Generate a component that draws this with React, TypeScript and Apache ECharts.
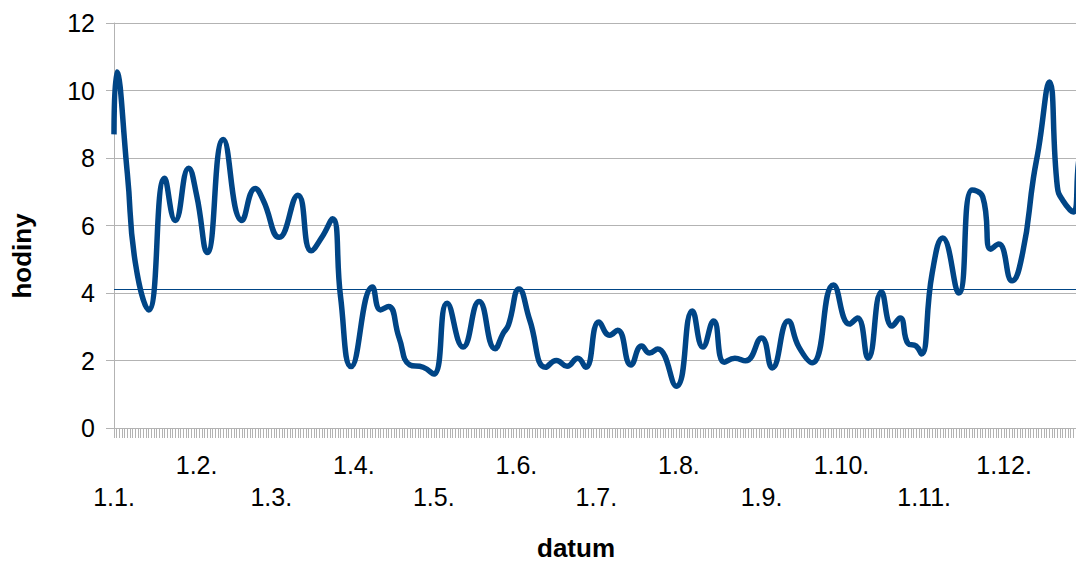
import React, { useEffect, useRef } from "react";
import * as echarts from "echarts";

// Month starts (day index within the year) and their labels
const monthStarts = [0, 31, 59, 90, 120, 151, 181, 212, 243, 273, 304, 334];
const monthLabels = ["1.1.", "1.2.", "1.3.", "1.4.", "1.5.", "1.6.", "1.7.", "1.8.", "1.9.", "1.10.", "1.11.", "1.12."];
const dayCount = 365;

// Read-off points of the curve: day of year and hours
const pointDays = [
  0, 1, 5, 8, 13, 19, 23, 28, 31, 35, 41, 48, 53, 56, 62, 69, 74, 78, 82, 85,
  89, 97, 100, 103, 107, 111, 116, 120, 125, 131, 137, 143, 146, 148, 152, 156, 162, 166, 170, 174,
  177, 182, 186, 189, 194, 198, 201, 204, 211, 217, 221, 225, 229, 233, 237, 243, 247, 253, 257, 262,
  270, 276, 279, 283, 288, 292, 295, 298, 301, 303, 307, 311, 317, 322, 326, 329, 332, 337, 341, 345,
  347, 351, 354, 356, 360, 362, 364,
];
const pointHours = [
  8.7, 10.55, 7.55, 4.9, 3.5, 7.4, 6.15, 7.7, 6.9, 5.2, 8.55, 6.15, 7.1, 6.75, 5.65, 6.9, 5.25, 5.65, 6.2, 3.9,
  1.82, 4.18, 3.5, 3.6, 2.67, 1.87, 1.8, 1.6, 3.7, 2.4, 3.75, 2.35, 2.8, 3.05, 4.12, 3.2, 1.8, 2.0, 1.83, 2.07,
  1.8, 3.14, 2.75, 2.9, 1.87, 2.43, 2.22, 2.34, 1.24, 3.47, 2.4, 3.17, 1.95, 2.07, 1.99, 2.67, 1.78, 3.17, 2.4, 1.93,
  4.24, 3.08, 3.26, 2.07, 4.03, 3.02, 3.26, 2.5, 2.43, 2.19, 4.58, 5.63, 4.0, 7.05, 6.85, 5.3, 5.45, 4.36, 5.2, 7.4,
  8.3, 10.25, 7.15, 6.75, 6.4, 7.9, 8.8,
];
const meanHours = 4.1;

const yTicks = { min: 0, max: 12, interval: 2 };

function buildCategories(): string[] {
  const cats: string[] = [];
  for (let i = 0; i < dayCount; i++) {
    let m = 0;
    for (let k = 0; k < monthStarts.length; k++) if (i >= monthStarts[k]) m = k;
    cats.push(`${i - monthStarts[m] + 1}.${m + 1}.`);
  }
  return cats;
}

function buildSeries(): (number | null)[] {
  const arr: (number | null)[] = new Array(dayCount).fill(null);
  pointDays.forEach((d, i) => {
    arr[d] = pointHours[i];
  });
  return arr;
}

export default function App() {
  const ref = useRef<HTMLDivElement>(null);
  useEffect(() => {
    if (!ref.current) return;
    const chart = echarts.init(ref.current, undefined, { renderer: "svg" });
    const font = "Liberation Sans";
    const grey = "#b3b3b3";
    chart.setOption({
      animation: false,
      grid: { left: 114, right: 2, top: 23, bottom: 134 },
      xAxis: {
        type: "category",
        data: buildCategories(),
        boundaryGap: false,
        axisLine: { lineStyle: { color: grey, width: 1 } },
        axisTick: { show: true, interval: 0, length: 10, lineStyle: { color: grey } },
        axisLabel: {
          interval: (i: number) => monthStarts.includes(i),
          formatter: (_v: string, i: number) => {
            const m = monthStarts.indexOf(i);
            if (m < 0) return "";
            return m % 2 === 0 ? "\n" + monthLabels[m] : monthLabels[m];
          },
          fontFamily: font,
          fontSize: 25,
          color: "#000",
          lineHeight: 32,
          margin: 21,
        },
        splitLine: { show: false },
      },
      yAxis: {
        type: "value",
        min: yTicks.min,
        max: yTicks.max,
        interval: yTicks.interval,
        axisLine: { show: true, lineStyle: { color: grey } },
        axisTick: { show: true, length: 8, lineStyle: { color: grey } },
        splitLine: { lineStyle: { color: grey, width: 1 } },
        axisLabel: { fontFamily: font, fontSize: 25, color: "#000", margin: 19 },
      },
      series: [
        {
          type: "line",
          data: buildSeries(),
          smooth: true,
          connectNulls: true,
          showSymbol: false,
          lineStyle: { color: "#004586", width: 5.5 },
          itemStyle: { color: "#004586" },
          markLine: {
            silent: true,
            symbol: "none",
            label: { show: false },
            lineStyle: { color: "#004586", width: 1, type: "solid" },
            data: [{ yAxis: meanHours }],
          },
        },
      ],
      graphic: [
        {
          type: "text",
          x: 22,
          y: 256,
          rotation: Math.PI / 2,
          style: {
            text: "hodiny",
            font: `bold 26px ${font}`,
            fill: "#000",
            textAlign: "center",
            textVerticalAlign: "middle",
          },
        },
        {
          type: "text",
          x: 576,
          y: 548,
          style: {
            text: "datum",
            font: `bold 26px ${font}`,
            fill: "#000",
            textAlign: "center",
            textVerticalAlign: "middle",
          },
        },
      ],
    });
    return () => chart.dispose();
  }, []);
  return (
    <div
      style={{ position: "fixed", left: 0, top: 0, width: 1076, height: 562, overflow: "hidden", background: "#fff" }}
    >
      <div ref={ref} style={{ width: 1086, height: 562 }} />
    </div>
  );
}
